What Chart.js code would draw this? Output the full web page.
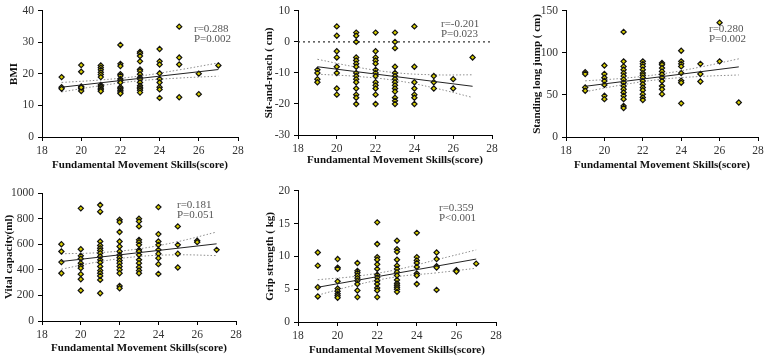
<!DOCTYPE html>
<html>
<head>
<meta charset="utf-8">
<script src="https://cdn.jsdelivr.net/npm/chart.js@4"></script>
<style>
    html, body { margin: 0; padding: 0; background: #fff; }
    body { width: 767px; height: 358px; position: relative; overflow: hidden; }
    .panel { position: absolute; }
</style>
</head>
<body>
<script>
"use strict";

// FMS score groups, and the x values used for the fit line and 95% CI bands
const fmsScores = [19, 20, 21, 22, 23, 24, 25, 26, 27];
const fitX = [19, 27];
const bandX = [19, 21, 23, 25, 27];

// BMI
const bmiValues = [
    [19, 15.8, 15.3],
    [22.8, 20.7, 16, 15.3, 14.6, 15.7],
    [22.7, 22, 21.3, 20.5, 19.8, 19, 16.5, 16, 15.5, 15, 14.5],
    [29.2, 23.2, 22.5, 19.9, 19.4, 18.4, 17.9, 17.3, 15.8, 15.3, 14.8, 14.3, 13.8],
    [27, 26.5, 25.7, 24, 21.4, 20.9, 19.9, 18.9, 18.4, 17.3, 16.3, 15.8, 15.3, 14.8, 14.1],
    [27.9, 24, 23, 20.2, 18.4, 17.3, 15.8, 15.1, 12.4],
    [35, 25.2, 23, 12.6],
    [20.1, 13.6],
    [22.7]
];
const bmiFit = [15.8, 21.4];
const bmiUpper = [17.3, 18.1, 19.35, 21.3, 23.5];
const bmiLower = [14.3, 16.3, 17.85, 18.7, 19.3];

// Sit-and-reach
const sitValues = [
    [-9, -10, -12, -13],
    [5, 2, -3, -5, -8, -10, -15, -17],
    [3, 2, 0, -5, -6, -7, -8, -10, -11, -12, -13, -15, -17, -18, -20],
    [3, -3, -5, -6, -7, -9, -10, -11, -13, -14, -15, -17, -20],
    [3, 0, -2, -8, -10, -11, -12, -13, -14, -15, -16, -18, -19, -20],
    [5, -8, -13, -15, -17, -18, -20],
    [-11, -13, -15],
    [-12, -15],
    [-5]
];
const sitFit = [-8, -14.3];
const sitUpper = [-5.6, -8.1, -9.9, -10.6, -10.6];
const sitLower = [-10.4, -11.1, -12.4, -14.8, -17.9];

// Standing long jump
const jumpValues = [
    [77, 75, 59, 55],
    [85, 75, 70.5, 66.6, 62, 49, 45],
    [125, 90, 84, 80, 76, 72.5, 68.5, 64.6, 60.7, 56.8, 52.9, 49, 45, 37, 34.5],
    [90, 87, 84, 80, 76, 73.6, 70.5, 66.6, 62.7, 58.8, 55.6, 51, 47, 44],
    [88, 86, 82, 78, 74.4, 70.5, 66.6, 60.7, 56.8, 51],
    [102.6, 90, 87, 84, 76, 67, 64.6, 40],
    [87, 75, 66],
    [136, 90],
    [41]
];
const jumpFit = [60.3, 83.4];
const jumpUpper = [66.8, 69.9, 75.1, 83.2, 93];
const jumpLower = [53.8, 62.3, 68.7, 72.0, 73.8];

// Vital capacity
const vitalValues = [
    [600, 543, 460, 373],
    [880, 561, 509, 486, 452, 431, 413, 366, 326, 238],
    [906, 854, 621, 590, 569, 551, 530, 504, 478, 457, 426, 394, 373, 352, 321, 217],
    [791, 773, 695, 621, 582, 543, 517, 496, 473, 452, 426, 400, 373, 274, 256],
    [799, 778, 739, 634, 616, 595, 556, 543, 517, 478, 452, 420, 394, 373],
    [890, 679, 621, 595, 556, 525, 491, 444, 368],
    [739, 595, 525, 418],
    [627, 616],
    [556]
];
const vitalFit = [465, 603];
const vitalUpper = [525, 534.5, 564, 620, 695];
const vitalLower = [405, 464.5, 504, 517, 511];

// Grip strength
const gripValues = [
    [10.6, 8.6, 5.3, 3.9],
    [9.6, 8.3, 8.1, 6.2, 5.1, 4.7, 4.3, 4, 3.7],
    [9, 7.8, 7.5, 7.1, 6.7, 6.3, 5.8, 4.8, 3.8],
    [15.2, 11.9, 9.9, 9.5, 8.8, 8.1, 7.2, 6.8, 6.3, 5.8, 5.2, 4.8, 3.8],
    [12.4, 11.1, 10.7, 9.5, 8.6, 8.1, 7.6, 7.1, 6.4, 5.9, 5.6, 5.3, 5.0, 4.6],
    [13.6, 9.9, 9.4, 9.0, 8.4, 7.4, 7.1, 5.8],
    [10.6, 9.6, 8.5, 8.3, 4.9],
    [7.9, 7.7],
    [8.9]
];
const gripFit = [5.3, 9.6];
const gripUpper = [6.45, 7.0, 8.0, 9.5, 11.0];
const gripLower = [4.1, 5.7, 6.9, 7.5, 8.2];

const SERIF = "'Liberation Serif', 'Times New Roman', serif";

const noteLabel = {
    id: "noteLabel",
    afterDatasetsDraw(chart, args, opts) {
        const { ctx, chartArea } = chart;
        ctx.save();
        ctx.font = "11px " + SERIF;
        ctx.fillStyle = "#555";
        ctx.textBaseline = "middle";
        opts.lines.forEach((t, i) => ctx.fillText(t, chartArea.left + opts.dx, chartArea.top + opts.dy + i * 10));
        ctx.restore();
    }
};

const toXY = (xs, ys) => xs.map((x, i) => ({ x: x, y: ys[i] }));

function makePanel(p) {
    const [bx, by, bw, bh] = p.box;
    const [al, at, ar, ab] = p.area;
    const wrap = document.createElement("div");
    wrap.className = "panel";
    wrap.style.left = bx + "px";
    wrap.style.top = by + "px";
    wrap.style.width = bw + "px";
    wrap.style.height = bh + "px";
    const canvas = document.createElement("canvas");
    wrap.appendChild(canvas);
    document.body.appendChild(wrap);

    const points = [];
    fmsScores.forEach((s, i) => p.values[i].forEach((v) => points.push({ x: s, y: v })));

    const band = { type: "line", borderColor: "#8c8c8c", borderDash: [1.5, 2], borderWidth: 1, pointRadius: 0, tension: 0.4, order: 2 };
    const datasets = [
        { type: "line", data: toXY(fitX, p.fit), borderColor: "#222", borderWidth: 1, pointRadius: 0, order: 0 },
        { type: "scatter", data: points, pointStyle: "rectRot", pointRadius: 2.6, backgroundColor: "#d8cf00", borderColor: "#111", borderWidth: 1.2, order: 1 },
        Object.assign({ data: toXY(bandX, p.upper) }, band),
        Object.assign({ data: toXY(bandX, p.lower) }, band)
    ];
    if (p.zeroLine) {
        datasets.push({ type: "line", data: toXY([18, 28], [0, 0]), borderColor: "#333", borderDash: [2, 3], borderWidth: 1.3, pointRadius: 0, order: 3 });
    }

    const titleFont = { family: SERIF, size: 11, weight: "bold" };
    const half = 11 * 1.2 / 2;
    const axisBits = {
        grid: { drawOnChartArea: false, drawTicks: true, tickLength: 4, color: "#000" },
        border: { display: true, color: "#000", width: 1 }
    };

    new Chart(canvas, {
        type: "scatter",
        data: { datasets },
        options: {
            responsive: true,
            maintainAspectRatio: false,
            animation: false,
            layout: { padding: { top: at - by, right: bx + bw - ar, left: 0, bottom: 0 } },
            plugins: {
                legend: { display: false },
                tooltip: { enabled: false },
                noteLabel: { lines: p.note, dx: p.noteAt[0], dy: p.noteAt[1] }
            },
            scales: {
                x: Object.assign({
                    type: "linear", min: 18, max: 28,
                    ticks: { stepSize: 2, padding: 3, color: "#333", font: { family: SERIF, size: 11.5 } },
                    title: { display: true, text: "Fundamental Movement Skills(score)", color: "#111", font: titleFont, padding: { top: 0, bottom: p.xTitleOff - half } },
                    afterFit: (s) => { s.height = by + bh - ab; }
                }, axisBits),
                y: Object.assign({
                    type: "linear", min: p.yMin, max: p.yMax,
                    ticks: { stepSize: p.yStep, padding: 4, color: "#333", font: { family: SERIF, size: 11.5 }, callback: (v) => String(v) },
                    title: { display: true, text: p.yTitle, color: "#111", font: titleFont, padding: { top: p.yTitleOff - half, bottom: 0 } },
                    afterFit: (s) => { s.width = al - bx; }
                }, axisBits)
            }
        },
        plugins: [noteLabel]
    });
}

document.addEventListener("DOMContentLoaded", () => {
    makePanel({ box: [0, 0, 255, 178], area: [42, 7, 238, 137], values: bmiValues, fit: bmiFit, upper: bmiUpper, lower: bmiLower,
        yMin: 0, yMax: 40, yStep: 10, yTitle: "BMI", yTitleOff: 14, xTitleOff: 13, note: ["r=0.288", "P=0.002"], noteAt: [152, 18] });
    makePanel({ box: [255, 0, 255, 178], area: [298, 6, 492, 135], values: sitValues, fit: sitFit, upper: sitUpper, lower: sitLower,
        yMin: -30, yMax: 10, yStep: 10, yTitle: "Sit-and-reach ( cm)", yTitleOff: 14, xTitleOff: 18, zeroLine: true, note: ["r=-0.201", "P=0.023"], noteAt: [143, 13] });
    makePanel({ box: [510, 0, 257, 178], area: [566, 9, 758, 137], values: jumpValues, fit: jumpFit, upper: jumpUpper, lower: jumpLower,
        yMin: 0, yMax: 150, yStep: 50, yTitle: "Standing long jump ( cm)", yTitleOff: 27, xTitleOff: 13, note: ["r=0.280", "P=0.002"], noteAt: [143, 18] });
    makePanel({ box: [0, 180, 255, 178], area: [42, 193, 236, 321], values: vitalValues, fit: vitalFit, upper: vitalUpper, lower: vitalLower,
        yMin: 0, yMax: 1000, yStep: 200, yTitle: "Vital capacity(ml)", yTitleOff: 9, xTitleOff: 10, note: ["r=0.181", "P=0.051"], noteAt: [135, 12] });
    makePanel({ box: [255, 180, 255, 178], area: [298, 190, 496, 322], values: gripValues, fit: gripFit, upper: gripUpper, lower: gripLower,
        yMin: 0, yMax: 20, yStep: 5, yTitle: "Grip strength ( kg)", yTitleOff: 15, xTitleOff: 8, note: ["r=0.359", "P<0.001"], noteAt: [141, 17] });
});
</script>
</body>
</html>
